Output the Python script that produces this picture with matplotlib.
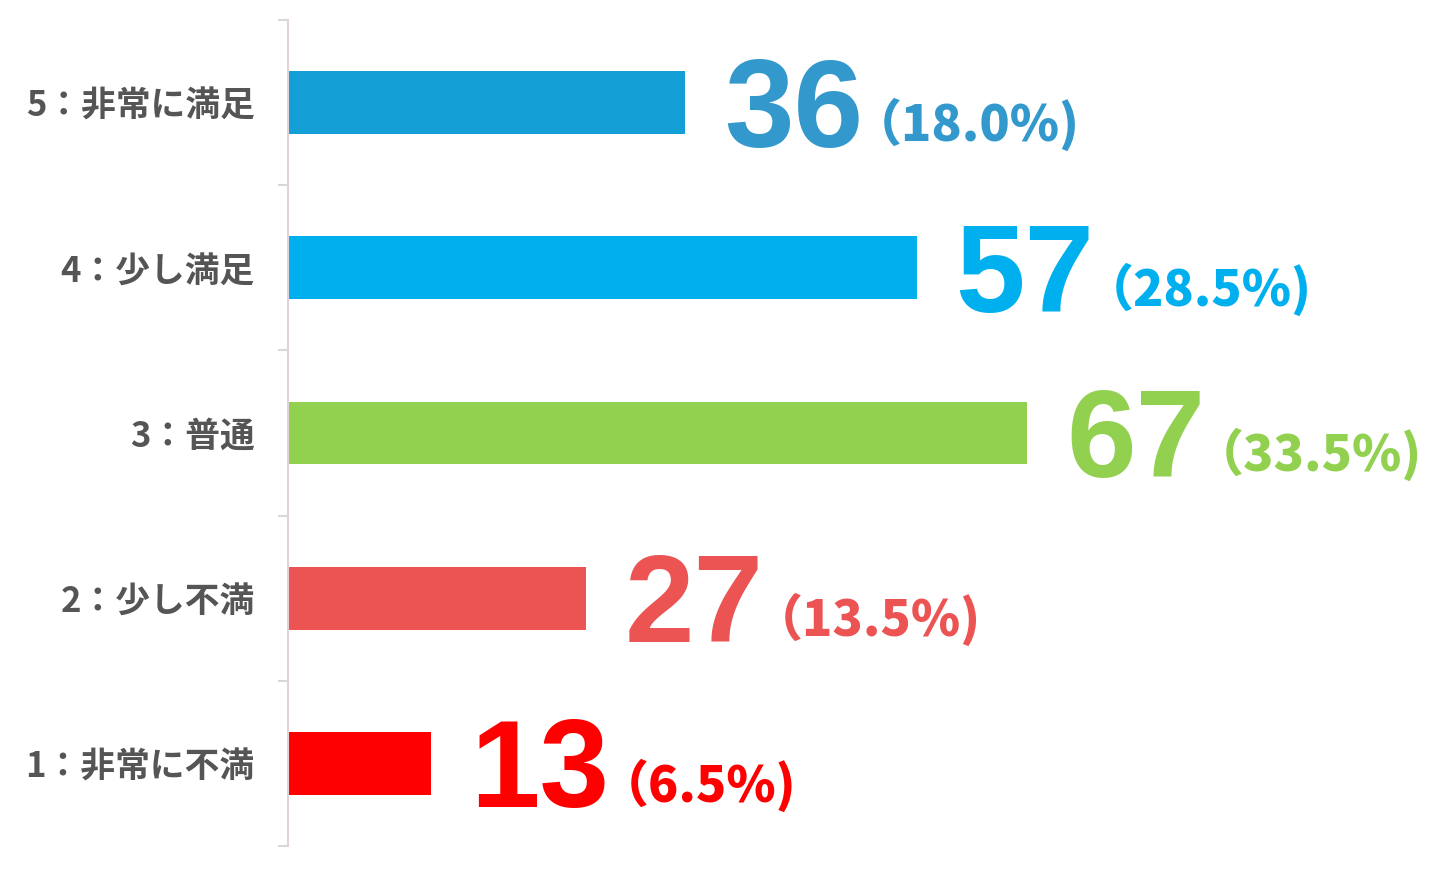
import matplotlib
matplotlib.use("Agg")
import matplotlib.pyplot as plt

categories = ["5：非常に満足", "4：少し満足", "3：普通", "2：少し不満", "1：非常に不満"]
counts = [36, 57, 67, 27, 13]
percents = ["18.0%", "28.5%", "33.5%", "13.5%", "6.5%"]
bar_colors = ["#139FD6", "#00B0EE", "#92D050", "#EC5353", "#FF0000"]
text_colors = ["#3399CC", "#00B0EE", "#92D050", "#EC5353", "#FF0000"]

W, H = 1446, 876
fig = plt.figure(figsize=(W / 100, H / 100), dpi=100)
ax = fig.add_axes([288 / W, 30 / H, (W - 288) / W, (846 - 20) / H])

n = len(categories)
ypos = list(range(n))[::-1]
ax.barh(ypos, counts, height=0.38, color=bar_colors, left=0)
ax.set_xlim(0, 105)
ax.set_ylim(-0.5, n - 0.5)

for s in ["top", "right", "bottom"]:
    ax.spines[s].set_visible(False)
ax.spines["left"].set_color("#E3D3D8")
ax.spines["left"].set_linewidth(1.5)
ax.set_xticks([])
ax.set_yticks(ypos)
ax.set_yticklabels(categories, fontsize=25, color="#555555", fontweight="bold",
                   family=["Noto Sans CJK JP", "DejaVu Sans"])
ax.tick_params(axis="y", which="major", length=0, pad=24)
ax.set_yticks([i - 0.5 for i in range(n + 1)], minor=True)
ax.tick_params(axis="y", which="minor", length=7, width=1.5, color="#D8D8D8")

for y, c, p, col in zip(ypos, counts, percents, text_colors):
    t = ax.annotate(str(c), xy=(c, y), xytext=(39, -44), textcoords="offset pixels",
                    ha="left", va="baseline", fontsize=90, fontweight="bold",
                    color=col, family=["Liberation Sans", "DejaVu Sans"])
    ax.annotate("（" + p + ")", xy=(1, y), xycoords=(t, "data"), xytext=(-11, -38),
                textcoords="offset pixels", ha="left", va="baseline",
                fontsize=36, fontweight="black", color=col,
                family=["Noto Sans CJK JP", "DejaVu Sans"])

fig.savefig("out.png", dpi=100)
